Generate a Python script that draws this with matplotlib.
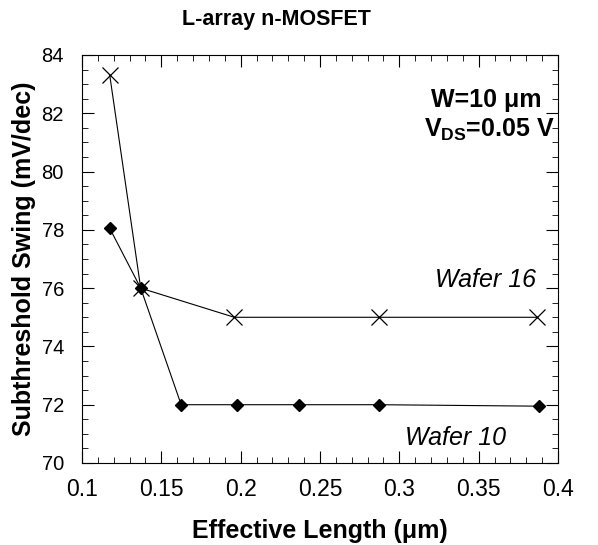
import numpy as np
import matplotlib
matplotlib.use("Agg")
import matplotlib.pyplot as plt
from matplotlib.ticker import MultipleLocator

plt.rcParams['font.family'] = ['Liberation Sans', 'DejaVu Sans']

# Wafer 16 (x markers)
len_w16 = [0.1175, 0.137, 0.196, 0.287, 0.3865]
ss_w16 = [83.3, 76.0, 75.0, 75.0, 75.0]

# Wafer 10 (diamonds)
len_w10 = [0.1175, 0.137, 0.1625, 0.1975, 0.237, 0.2875, 0.388]
ss_w10 = [78.05, 76.0, 72.0, 72.0, 72.0, 72.0, 71.95]

fig = plt.figure(figsize=(5.98, 5.45), dpi=100)
ax = fig.add_axes([82/598, 1-463/545, (558-82)/598, (463-55)/545])

ax.plot(len_w16, ss_w16, c="black", lw=0.8, marker="x", ms=11, mew=0.9)
ax.plot(len_w10, ss_w10, c="black", lw=0.8, marker="D", ms=6)

ax.axis([0.1, 0.4, 70, 84])
ax.xaxis.set_major_locator(MultipleLocator(0.05))
ax.xaxis.set_minor_locator(MultipleLocator(0.01))
ax.yaxis.set_major_locator(MultipleLocator(2))
ax.yaxis.set_minor_locator(MultipleLocator(0.5))
ax.set_xticks([0.1, 0.15, 0.2, 0.25, 0.3, 0.35, 0.4])
ax.set_xticklabels(["0.1", "0.15", "0.2", "0.25", "0.3", "0.35", "0.4"])
ax.tick_params(which="both", direction="in", top=True, right=True)
ax.tick_params(which="major", length=8.5)
ax.tick_params(which="minor", length=4.5)
ax.tick_params(axis="x", pad=11, labelsize=16.5)
ax.tick_params(axis="y", pad=13, labelsize=14.5)

ax.set_xlabel("Effective Length (\u03bcm)", fontweight="bold", fontsize=18, labelpad=13)
ax.set_ylabel("Subthreshold Swing (mV/dec)", fontweight="bold", fontsize=18, labelpad=4)
fig.text(276.5/598, 1-20/545, "L-array n-MOSFET", ha="center", va="center",
         fontweight="bold", fontsize=15.5)

ax.text(0.3546, 82.22, "W=10 \u03bcm", ha="center", va="baseline", fontweight="bold", fontsize=18)
ax.text(0.357, 81.18, "V$_{\\mathregular{DS}}$=0.05 V", ha="center", va="baseline",
        fontweight="bold", fontsize=18)
ax.text(0.354, 76.03, "Wafer 16", style="italic", fontsize=18, ha="center", va="baseline")
ax.text(0.3357, 70.62, "Wafer 10", style="italic", fontsize=18, ha="center", va="baseline")

plt.savefig("out.png", dpi=100)
